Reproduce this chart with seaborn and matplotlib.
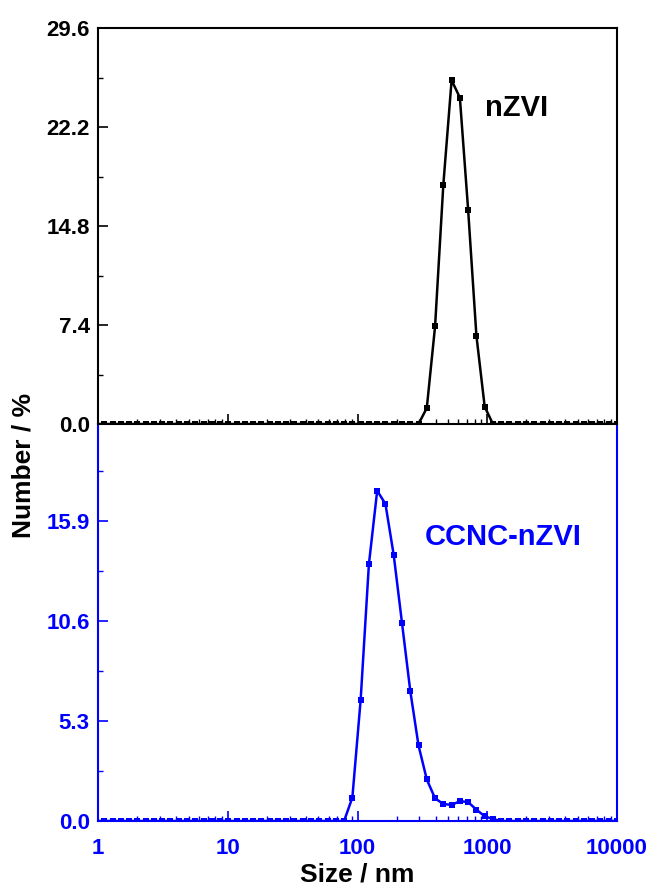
"""
DLS number-size distributions of nZVI and CCNC-nZVI (two stacked panels)
"""

import numpy as np
import pandas as pd
import matplotlib
matplotlib.use("Agg")
import matplotlib.pyplot as plt
from matplotlib.ticker import FixedLocator, LogLocator, NullFormatter, FuncFormatter
import seaborn as sns

# Size classes (nm) of the instrument, log spaced
SIZE_NM = [
    0.4, 0.4632, 0.5365, 0.6213, 0.7195, 0.8332, 0.9649, 1.117, 1.294, 1.499,
    1.736, 2.010, 2.328, 2.696, 3.122, 3.615, 4.187, 4.849, 5.615, 6.503,
    7.531, 8.721, 10.10, 11.70, 13.54, 15.69, 18.17, 21.04, 24.36, 28.21,
    32.67, 37.84, 43.82, 50.75, 58.77, 68.06, 78.82, 91.28, 105.7, 122.4,
    141.8, 164.2, 190.1, 220.2, 255.0, 295.3, 342.0, 396.1, 458.7, 531.2,
    615.1, 712.4, 825.0, 955.4, 1106, 1281, 1484, 1718, 1990, 2305,
    2669, 3091, 3580, 4145, 4801, 5560, 6439, 7456, 8635, 10000,
]

# Number % per size class
NZVI_PCT = [
    0, 0, 0, 0, 0, 0, 0, 0, 0, 0,
    0, 0, 0, 0, 0, 0, 0, 0, 0, 0,
    0, 0, 0, 0, 0, 0, 0, 0, 0, 0,
    0, 0, 0, 0, 0, 0, 0, 0, 0, 0,
    0, 0, 0, 0, 0, 0, 1.2, 7.3, 17.9, 25.7,
    24.4, 16.0, 6.6, 1.3, 0, 0, 0, 0, 0, 0,
    0, 0, 0, 0, 0, 0, 0, 0, 0, 0,
]

CCNC_NZVI_PCT = [
    0, 0, 0, 0, 0, 0, 0, 0, 0, 0,
    0, 0, 0, 0, 0, 0, 0, 0, 0, 0,
    0, 0, 0, 0, 0, 0, 0, 0, 0, 0,
    0, 0, 0, 0, 0, 0, 0, 1.24, 6.4, 13.6,
    17.5, 16.8, 14.1, 10.5, 6.9, 4.0, 2.2, 1.2, 0.9, 0.85,
    1.05, 1.0, 0.6, 0.25, 0.1, 0, 0, 0, 0, 0,
    0, 0, 0, 0, 0, 0, 0, 0, 0, 0,
]

TOP_YTICKS = [0.0, 7.4, 14.8, 22.2, 29.6]
BOTTOM_YTICKS = [0.0, 5.3, 10.6, 15.9]
XTICKS = [1, 10, 100, 1000, 10000]

BLUE = "#0000ff"
BLACK = "#000000"

sns.set_theme(style="ticks")
plt.rcParams["font.family"] = ["Liberation Sans", "DejaVu Sans"]
plt.rcParams["font.weight"] = "bold"

df_top = pd.DataFrame({"size": SIZE_NM, "pct": NZVI_PCT})
df_bot = pd.DataFrame({"size": SIZE_NM, "pct": CCNC_NZVI_PCT})

fig = plt.figure(figsize=(6.49, 8.91), dpi=100)
ax_bot = fig.add_axes([0.1510, 0.0786, 0.7997, 0.4456])
ax_top = fig.add_axes([0.1510, 0.5241, 0.7997, 0.4444], sharex=ax_bot)


def style_panel(ax, color, yticks, ymax):
    ax.set_xscale("log")
    ax.set_xlim(1, 10000)
    ax.set_ylim(0, ymax)
    ax.yaxis.set_major_locator(FixedLocator(yticks))
    step = yticks[1] - yticks[0]
    minors = [t + step / 2 for t in yticks]
    ax.yaxis.set_minor_locator(FixedLocator(minors))
    ax.yaxis.set_major_formatter(FuncFormatter(lambda v, p: f"{v:.1f}"))
    ax.xaxis.set_major_locator(FixedLocator(XTICKS))
    ax.xaxis.set_minor_locator(LogLocator(base=10, subs=np.arange(2, 10), numticks=20))
    ax.xaxis.set_minor_formatter(NullFormatter())
    ax.tick_params(which="major", direction="in", length=7, width=1.2, color=color,
                   labelcolor=color, labelsize=16, pad=6)
    ax.tick_params(which="minor", direction="in", length=3.5, width=1.0, color=color)
    ax.tick_params(top=False, right=False, which="both")
    for s in ax.spines.values():
        s.set_color(color)
        s.set_linewidth(1.5)
    ax.set_xlabel("")
    ax.set_ylabel("")


sns.lineplot(data=df_top, x="size", y="pct", ax=ax_top, color=BLACK, marker="s",
             markersize=4.5, markeredgewidth=0, linewidth=1.8)
sns.lineplot(data=df_bot, x="size", y="pct", ax=ax_bot, color=BLUE, marker="s",
             markersize=4.5, markeredgewidth=0, linewidth=1.8)

style_panel(ax_top, BLACK, TOP_YTICKS, 29.6)
style_panel(ax_bot, BLUE, BOTTOM_YTICKS, 21.04)
ax_top.tick_params(labelbottom=False)
ax_bot.tick_params(axis="x", which="major", pad=12)
ax_bot.xaxis.set_major_formatter(FuncFormatter(lambda v, p: f"{int(v)}"))
ax_bot.spines["top"].set_visible(False)

ax_top.text(0.745, 0.797, "nZVI", transform=ax_top.transAxes, fontsize=21,
            fontweight="bold", color=BLACK, va="center", ha="left")
ax_bot.text(0.63, 0.715, "CCNC-nZVI", transform=ax_bot.transAxes, fontsize=21,
            fontweight="bold", color=BLUE, va="center", ha="left")

fig.text(0.036, 0.478, "Number / %", rotation=90, fontsize=19, fontweight="bold",
         ha="center", va="center", color=BLACK)
fig.text(0.551, 0.019, "Size / nm", fontsize=19, fontweight="bold",
         ha="center", va="center", color=BLACK)

fig.savefig("out.png", dpi=100)
